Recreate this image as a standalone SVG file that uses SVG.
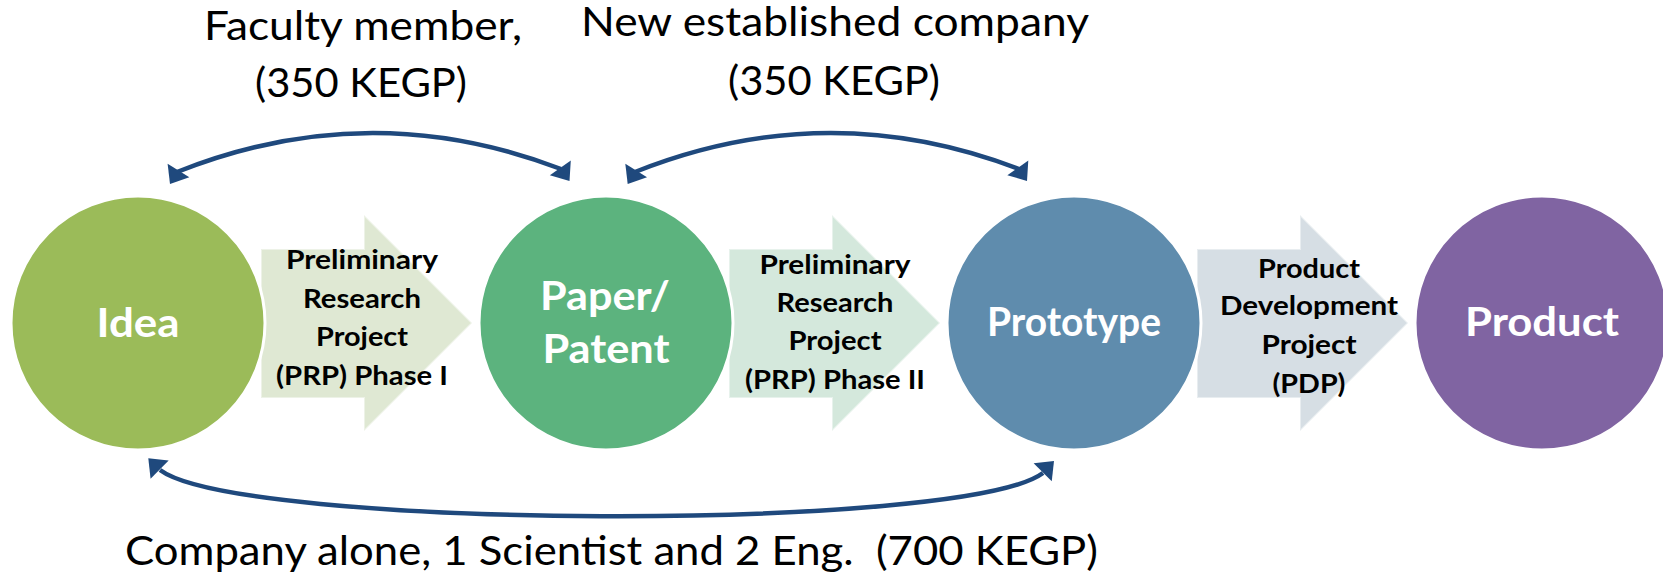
<svg xmlns="http://www.w3.org/2000/svg" xmlns:xlink="http://www.w3.org/1999/xlink" width="1663" height="586" viewBox="0 0 1663 586">
  <style>
    .stage { stroke: #ffffff; stroke-width: 3; }
    .stage-label { font-family: Lato, "Liberation Sans", sans-serif; font-weight: 700; font-size: 41px; fill: #ffffff; text-anchor: middle; }
    .step { stroke: #ffffff; stroke-opacity: 0.45; stroke-width: 2; }
    .step-label { font-family: Lato, "Liberation Sans", sans-serif; font-weight: 700; font-size: 27px; fill: #000000; text-anchor: middle; }
    .note { font-family: Lato, "Liberation Sans", sans-serif; font-weight: 400; font-size: 40px; fill: #000000; text-anchor: middle; white-space: pre; }
    .link { fill: none; stroke: #1F497D; stroke-width: 4.5; }
    .head { fill: #1F497D; }
  </style>
  <defs>
    <!-- arrowhead with its tip at the origin, pointing along +x -->
    <path id="ah" d="M0,0 L-16,-12.8 L-16,12.8 Z"/>
    <!-- block arrow between two stages -->
    <polygon id="block" points="0,249 103,249 103,215 211,323 103,431 103,398 0,398"/>
  </defs>

  <rect width="1663" height="586" fill="#ffffff"/>

  <!-- block arrows (drawn first so the circles overlap them) -->
  <g id="step-prp1">
    <use xlink:href="#block" href="#block" x="261" class="step" fill="#DFE8D3"/>
    <text class="step-label" x="362" y="269" textLength="152" lengthAdjust="spacingAndGlyphs">Preliminary</text>
    <text class="step-label" x="362" y="307.5" textLength="118" lengthAdjust="spacingAndGlyphs">Research</text>
    <text class="step-label" x="362" y="346" textLength="92" lengthAdjust="spacingAndGlyphs">Project</text>
    <text class="step-label" x="362" y="385" textLength="172" lengthAdjust="spacingAndGlyphs">(PRP) Phase I</text>
  </g>
  <g id="step-prp2">
    <use xlink:href="#block" href="#block" x="729" class="step" fill="#D4E8DC"/>
    <text class="step-label" x="835" y="274" textLength="151" lengthAdjust="spacingAndGlyphs">Preliminary</text>
    <text class="step-label" x="835" y="312" textLength="117" lengthAdjust="spacingAndGlyphs">Research</text>
    <text class="step-label" x="835" y="350" textLength="93" lengthAdjust="spacingAndGlyphs">Project</text>
    <text class="step-label" x="835" y="388.5" textLength="180" lengthAdjust="spacingAndGlyphs">(PRP) Phase II</text>
  </g>
  <g id="step-pdp">
    <use xlink:href="#block" href="#block" x="1197" class="step" fill="#D6DEE4"/>
    <text class="step-label" x="1309" y="277.5" textLength="102" lengthAdjust="spacingAndGlyphs">Product</text>
    <text class="step-label" x="1309" y="315" textLength="178" lengthAdjust="spacingAndGlyphs">Development</text>
    <text class="step-label" x="1309" y="354" textLength="95" lengthAdjust="spacingAndGlyphs">Project</text>
    <text class="step-label" x="1309" y="392.5" textLength="73" lengthAdjust="spacingAndGlyphs">(PDP)</text>
  </g>

  <!-- stages -->
  <g id="stage-idea">
    <circle class="stage" cx="138" cy="323" r="127" fill="#9BBB59"/>
    <text class="stage-label" x="138" y="336.5" textLength="83" lengthAdjust="spacingAndGlyphs">Idea</text>
  </g>
  <g id="stage-paper">
    <circle class="stage" cx="606" cy="323" r="127" fill="#5CB37E"/>
    <text class="stage-label" x="605" y="310" textLength="130" lengthAdjust="spacingAndGlyphs">Paper/</text>
    <text class="stage-label" x="606" y="363" textLength="127" lengthAdjust="spacingAndGlyphs">Patent</text>
  </g>
  <g id="stage-prototype">
    <circle class="stage" cx="1074" cy="323" r="127" fill="#5F8CAD"/>
    <text class="stage-label" x="1074" y="335.5" textLength="174" lengthAdjust="spacingAndGlyphs">Prototype</text>
  </g>
  <g id="stage-product">
    <circle class="stage" cx="1542" cy="323" r="127" fill="#8064A2"/>
    <text class="stage-label" x="1542" y="335.5" textLength="154" lengthAdjust="spacingAndGlyphs">Product</text>
  </g>

  <!-- funding loops -->
  <g id="connectors">
    <path class="link" d="M177,172 Q369,95.5 561,169"/>
    <use class="head" xlink:href="#ah" href="#ah" transform="translate(170,184) rotate(122)"/>
    <use class="head" xlink:href="#ah" href="#ah" transform="translate(569.5,181) rotate(55)"/>

    <path class="link" d="M635,172 Q827,95.5 1019,169"/>
    <use class="head" xlink:href="#ah" href="#ah" transform="translate(627.7,184) rotate(122)"/>
    <use class="head" xlink:href="#ah" href="#ah" transform="translate(1027,181) rotate(55)"/>

    <path class="link" d="M160,470 C240,529.5 963,532.5 1043,473"/>
    <use class="head" xlink:href="#ah" href="#ah" transform="translate(148.3,458.3) rotate(-135)"/>
    <use class="head" xlink:href="#ah" href="#ah" transform="translate(1054,461) rotate(-45)"/>
  </g>

  <!-- funding notes -->
  <g id="notes">
    <text class="note" x="363" y="40" textLength="318" lengthAdjust="spacingAndGlyphs">Faculty member,</text>
    <text class="note" x="361" y="97" textLength="212" lengthAdjust="spacingAndGlyphs">(350 KEGP)</text>
    <text class="note" x="835" y="36" textLength="508" lengthAdjust="spacingAndGlyphs">New established company</text>
    <text class="note" x="834" y="95" textLength="212" lengthAdjust="spacingAndGlyphs">(350 KEGP)</text>
    <text class="note" x="611.5" y="565" textLength="973" lengthAdjust="spacingAndGlyphs">Company alone, 1 Scientist and 2 Eng.  (700 KEGP)</text>
  </g>
</svg>
